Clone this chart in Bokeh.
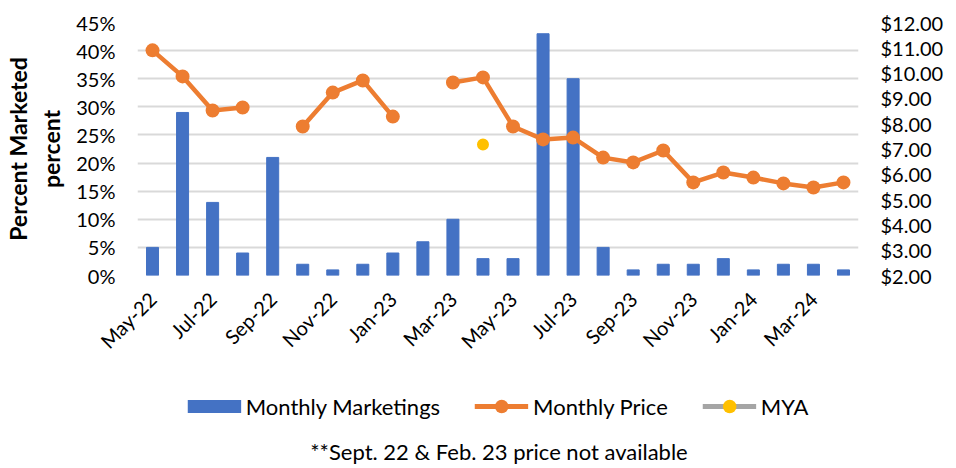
from math import pi, nan
from bokeh.plotting import figure
from bokeh.layouts import column
from bokeh.models import (Range1d, LinearAxis, FixedTicker, PrintfTickFormatter,
                          NumeralTickFormatter, Legend, LegendItem, Label, ColumnDataSource)
from bokeh.embed import file_html
from bokeh.resources import INLINE

months = ["May-22", "Jun-22", "Jul-22", "Aug-22", "Sep-22", "Oct-22", "Nov-22", "Dec-22",
          "Jan-23", "Feb-23", "Mar-23", "Apr-23", "May-23", "Jun-23", "Jul-23", "Aug-23",
          "Sep-23", "Oct-23", "Nov-23", "Dec-23", "Jan-24", "Feb-24", "Mar-24", "Apr-24"]
marketed_pct = [5, 29, 13, 4, 21, 2, 1, 2, 4, 6, 10, 3, 3, 43, 35, 5, 1, 2, 2, 3, 1, 2, 2, 1]
monthly_price = [10.90, 9.87, 8.52, 8.64, nan, 7.89, 9.23, 9.71, 8.28, nan, 9.63, 9.83,
                 7.89, 7.38, 7.45, 6.66, 6.47, 6.94, 5.68, 6.07, 5.87, 5.64, 5.48, 5.68]
mya_month = ["Apr-23"]
mya_price = [7.18]
pct_ticks = [0, 5, 10, 15, 20, 25, 30, 35, 40, 45]
price_ticks = [2, 3, 4, 5, 6, 7, 8, 9, 10, 11, 12]
series_names = ["Monthly Marketings", "Monthly Price", "MYA"]
footnote = "**Sept. 22 & Feb. 23 price not available"

FONT = "Lato"
BLUE, ORANGE, GRAY, YELLOW = "#4472C4", "#ED7D31", "#A5A5A5", "#FFC000"

xs = list(range(len(months)))
src = ColumnDataSource(dict(x=xs, pct=marketed_pct, price=monthly_price))
mya_src = ColumnDataSource(dict(x=[months.index(m) for m in mya_month], price=mya_price))

# ---------------- main chart ----------------
p = figure(width=956, height=380, x_range=Range1d(-0.5, len(months) - 0.5),
           y_range=Range1d(0, 45), output_backend="svg", toolbar_location=None,
           min_border_left=135, min_border_right=98, min_border_top=22, min_border_bottom=105)
p.extra_y_ranges = {"price": Range1d(2, 12)}
p.outline_line_color = None

p.vbar(x="x", top="pct", width=0.4, color=BLUE, source=src)
p.line(x="x", y="price", source=src, y_range_name="price", color=ORANGE,
       line_width=4.5, line_join="round")
p.scatter(x="x", y="price", source=src, y_range_name="price", size=14,
          fill_color=ORANGE, line_color=None)
p.scatter(x="x", y="price", source=mya_src, y_range_name="price", size=12,
          fill_color=YELLOW, line_color=None)

xa = p.xaxis[0]
xa.ticker = FixedTicker(ticks=xs[::2])
xa.major_label_overrides = {i: months[i] for i in xs[::2]}
xa.major_label_orientation = pi / 4
xa.major_label_standoff = 20
xa.major_label_text_align = "right"
xa.major_label_text_baseline = "top"

ya = p.yaxis[0]
ya.ticker = FixedTicker(ticks=pct_ticks)
ya.formatter = PrintfTickFormatter(format="%d%%")
ya.major_label_standoff = 22
ya.axis_label = "Percent Marketed\npercent"
ya.axis_label_text_font = FONT
ya.axis_label_text_font_style = "bold"
ya.axis_label_text_font_size = "23px"
ya.axis_label_text_color = "#000000"
ya.axis_label_standoff = 8

ra = LinearAxis(y_range_name="price", ticker=FixedTicker(ticks=price_ticks),
                formatter=NumeralTickFormatter(format="$0.00"))
ra.major_label_standoff = 22
p.add_layout(ra, "right")

for ax in (xa, ya, ra):
    ax.axis_line_color = None
    ax.major_tick_line_color = None
    ax.minor_tick_line_color = None
    ax.major_tick_out = 0
    ax.major_tick_in = 0
    ax.minor_tick_out = 0
    ax.major_label_text_font = FONT
    ax.major_label_text_font_size = "20px"
    ax.major_label_text_color = "#000000"

p.xgrid.visible = False
p.ygrid.grid_line_color = "#D9D9D9"
p.ygrid.grid_line_width = 2

# ---------------- legend + footnote strip ----------------
q = figure(width=956, height=88, x_range=Range1d(0, 1), y_range=Range1d(0, 1),
           output_backend="svg", toolbar_location=None, x_axis_type=None, y_axis_type=None,
           min_border_left=135, min_border_right=98, min_border_top=0, min_border_bottom=0)
q.outline_line_color = None
q.grid.visible = False

k_bar = q.line(x=[nan], y=[nan], color=BLUE, line_width=13, line_cap="butt")
k_pl = q.line(x=[nan], y=[nan], color=ORANGE, line_width=5)
k_pd = q.scatter(x=[nan], y=[nan], fill_color=ORANGE, line_color=None)
k_ml = q.line(x=[nan], y=[nan], color=GRAY, line_width=5)
k_md = q.scatter(x=[nan], y=[nan], fill_color=YELLOW, line_color=None)

legend = Legend(items=[LegendItem(label=series_names[0], renderers=[k_bar]),
                       LegendItem(label=series_names[1], renderers=[k_pl, k_pd]),
                       LegendItem(label=series_names[2], renderers=[k_ml, k_md])],
                orientation="horizontal", location="top_center", border_line_color=None,
                background_fill_alpha=0, padding=0, margin=9, spacing=34, label_standoff=5,
                glyph_width=54, glyph_height=34, label_height=22,
                label_text_font=FONT, label_text_font_size="22px", label_text_color="#000000")
q.add_layout(legend, "center")

note = Label(x=361.5, y=17, x_units="screen", y_units="screen", text=footnote,
             text_align="center", text_baseline="middle", text_font=FONT,
             text_font_size="22px", text_color="#000000")
q.add_layout(note)

layout = column(p, q, spacing=0)
open("out.html", "w").write(file_html(layout, INLINE))
